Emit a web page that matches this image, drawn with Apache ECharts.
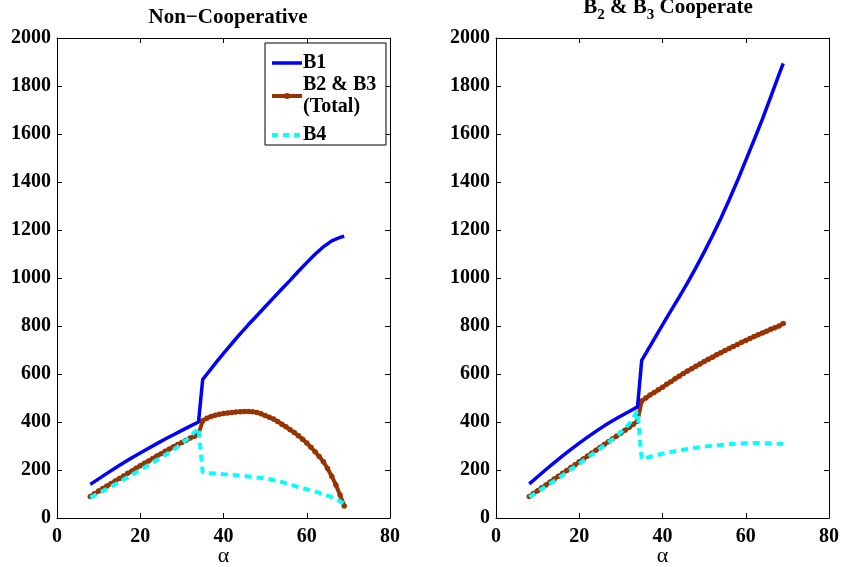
<!DOCTYPE html>
<html>
<head>
<meta charset="utf-8">
<script src="https://cdn.jsdelivr.net/npm/echarts@6/dist/echarts.min.js"></script>
<style>html,body{margin:0;padding:0;background:#fff}#c{width:842px;height:567px}</style>
</head>
<body>
<div id="c"></div>
<script>
// ---- data ----
const alpha = [8,10,12,14,16,18,20,22,24,26,28,30,32,34,35,36,38,40,42,44,46,48,50,52,54,56,58,60,62,64,66,68,69];
const alphaFine = [8,9,10,11,12,13,14,15,16,17,18,19,20,21,22,23,24,25,26,27,28,29,30,31,32,33,34,35,36,37,38,39,40,41,42,43,44,45,46,47,48,49,50,51,52,53,54,55,56,57,58,59,60,61,62,63,64,65,66,67,68,69];

// Non-Cooperative
const b1Left = [140,163,186,208,230,251,271,291,310,329,347,365,383,400,577,599,643,686,727,767,806,843,880,917,954,990,1028,1064,1099,1130,1155,1169,1174];
const b4Left = [85,103,122,141,160,180,200,221,242,263,285,310,340,375,190,187,185,182,180,177,173,169,165,158,150,139,129,120,110,100,87,70,60];
const b23Left = [90,101,112,123,133,144,154,165,175,186,196,207,218,228,238,248,258,268,278,287,297,306,315,324,333,341,350,405,416,423,428,432,435,438,440,442,443,444,444,443,440,434,427,420,412,402,391,380,368,356,343,328,312,295,276,256,234,206,174,138,96,50];

// B2 & B3 Cooperate
const b1Right = [142,172,202,231,259,286,312,337,361,384,405,425,444,463,657,686,745,805,863,920,980,1042,1108,1176,1248,1325,1405,1490,1575,1662,1755,1848,1894];
const b4Right = [87,109,132,155,179,203,227,252,277,302,328,357,392,445,245,250,260,268,275,282,288,293,297,301,304,307,310,311,312,312,311,309,308];
const b23Right = [90,102,114,126,138,150,162,174,186,198,210,222,234,246,258,270,282,294,306,318,330,342,354,366,378,391,404,488,500,512,523,534,545,557,568,580,591,602,612,622,632,642,652,661,670,680,689,698,706,715,723,732,740,748,756,764,771,778,786,793,800,810];

const legendNames = ['B1', 'B2 & B3', '(Total)', 'B4'];
const xTicks = {min:0, max:80, interval:20};
const yTicks = {min:0, max:2000, interval:200};

// ---- chart ----
const FONT = 'Liberation Serif';
const pairs = (xs, ys) => xs.map((x, i) => [x, ys[i]]);
const BLUE = '#0000ff', BROWN = '#993300', CYAN = '#00ffff';

function xAx(grid, top) {
  return {
    type: 'value', gridIndex: grid, position: top ? 'top' : 'bottom',
    min: xTicks.min, max: xTicks.max, interval: xTicks.interval,
    axisLine: {show: true, onZero: false, lineStyle: {color: '#000', width: 1}},
    axisTick: {show: true, inside: true, length: 5, lineStyle: {color: '#000'}},
    axisLabel: {show: !top, color: '#000', fontFamily: FONT, fontWeight: 'bold', fontSize: 20, margin: 9,
      formatter: v => String(v)},
    splitLine: {show: false},
    name: top ? '' : 'α', nameLocation: 'middle', nameGap: 27, nameMoveOverlap: false,
    nameTextStyle: {color: '#000', fontFamily: FONT, fontSize: 22}
  };
}
function yAx(grid, right) {
  return {
    type: 'value', gridIndex: grid, position: right ? 'right' : 'left',
    min: yTicks.min, max: yTicks.max, interval: yTicks.interval,
    axisLine: {show: true, onZero: false, lineStyle: {color: '#000', width: 1}},
    axisTick: {show: true, inside: true, length: 5, lineStyle: {color: '#000'}},
    axisLabel: {show: !right, color: '#000', fontFamily: FONT, fontWeight: 'bold', fontSize: 20, margin: 6,
      formatter: v => String(v)},
    splitLine: {show: false}
  };
}
function lineSeries(name, xs, ys, idx, kind) {
  const s = {
    name: name, type: 'line', xAxisIndex: idx, yAxisIndex: idx,
    data: pairs(xs, ys), animation: false, clip: false
  };
  if (kind === 'b1') {
    s.symbol = 'none'; s.lineStyle = {color: BLUE, width: 3.5}; s.itemStyle = {color: BLUE}; s.z = 4;
  } else if (kind === 'b23') {
    s.symbol = 'circle'; s.symbolSize = 5.5; s.showSymbol = true;
    s.lineStyle = {color: BROWN, width: 4}; s.itemStyle = {color: BROWN}; s.z = 2;
  } else {
    s.symbol = 'none'; s.lineStyle = {color: CYAN, width: 4, type: [7, 5]}; s.itemStyle = {color: CYAN}; s.z = 3;
  }
  return s;
}

// legend drawn as a small boxed key
const LX = 265, LY = 43;
const tStyle = t => ({text: t, fill: '#000', font: 'bold 20px ' + FONT, textVerticalAlign: 'middle', verticalAlign: 'middle'});
const graphics = [
  {type: 'rect', shape: {x: LX, y: LY, width: 121, height: 102}, style: {fill: '#fff', stroke: '#000', lineWidth: 1}, z: 100},
  {type: 'line', shape: {x1: LX + 7, y1: LY + 20, x2: LX + 37, y2: LY + 20}, style: {stroke: BLUE, lineWidth: 3.5}, z: 101},
  {type: 'line', shape: {x1: LX + 7, y1: LY + 53, x2: LX + 37, y2: LY + 53}, style: {stroke: BROWN, lineWidth: 4}, z: 101},
  {type: 'circle', shape: {cx: LX + 22, cy: LY + 53, r: 3}, style: {fill: BROWN}, z: 101},
  {type: 'line', shape: {x1: LX + 7, y1: LY + 92, x2: LX + 37, y2: LY + 92}, style: {stroke: CYAN, lineWidth: 4, lineDash: [6, 5]}, z: 101},
  {type: 'text', x: LX + 38, y: LY + 20, style: tStyle(legendNames[0]), z: 102},
  {type: 'text', x: LX + 38, y: LY + 42, style: tStyle(legendNames[1]), z: 102},
  {type: 'text', x: LX + 38, y: LY + 64, style: tStyle(legendNames[2]), z: 102},
  {type: 'text', x: LX + 38, y: LY + 92, style: tStyle(legendNames[3]), z: 102}
];

const chart = echarts.init(document.getElementById('c'), null, {renderer: 'canvas'});
chart.setOption({
  backgroundColor: '#fff',
  animation: false,
  title: [
    {text: 'Non−Cooperative', left: 223, top: 2, textAlign: 'center',
     textStyle: {fontFamily: FONT, fontWeight: 'bold', fontSize: 21, color: '#000'}},
    {text: '{a|B}{s|2}{a| & B}{s|3}{a| Cooperate}', left: 663, top: -8, textAlign: 'center',
     textStyle: {fontFamily: FONT, fontWeight: 'bold', fontSize: 21, color: '#000',
       rich: {
         a: {fontFamily: FONT, fontWeight: 'bold', fontSize: 21, color: '#000', verticalAlign: 'top', lineHeight: 23},
         s: {fontFamily: FONT, fontWeight: 'bold', fontSize: 15, color: '#000', verticalAlign: 'top', lineHeight: 16, padding: [11, 0, 0, 0]}
       }}}
  ],
  grid: [
    {left: 57, right: 452, top: 38, bottom: 49, containLabel: false, outerBoundsMode: 'none'},
    {left: 496, right: 13, top: 38, bottom: 49, containLabel: false, outerBoundsMode: 'none'}
  ],
  xAxis: [xAx(0, false), xAx(0, true), xAx(1, false), xAx(1, true)],
  yAxis: [yAx(0, false), yAx(0, true), yAx(1, false), yAx(1, true)],
  graphic: graphics,
  series: [
    lineSeries('B1', alpha, b1Left, 0, 'b1'),
    lineSeries('B2 & B3 (Total)', alphaFine, b23Left, 0, 'b23'),
    lineSeries('B4', alpha, b4Left, 0, 'b4'),
    lineSeries('B1 right', alpha, b1Right, 2, 'b1'),
    lineSeries('B2 & B3 right', alphaFine, b23Right, 2, 'b23'),
    lineSeries('B4 right', alpha, b4Right, 2, 'b4')
  ]
});
</script>
</body>
</html>
